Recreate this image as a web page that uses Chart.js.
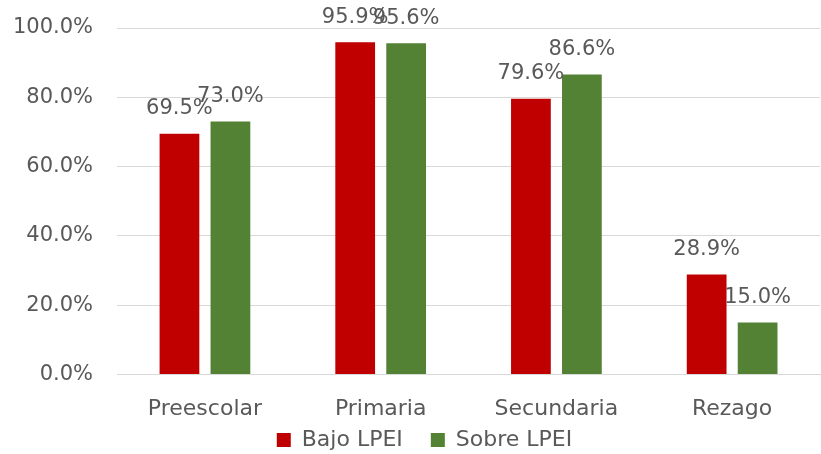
<!DOCTYPE html>
<html>
<head>
<meta charset="utf-8">
<script src="https://cdn.jsdelivr.net/npm/chart.js@4"></script>
<style>
  html, body { margin: 0; padding: 0; background: #fff; }
  #wrap { width: 821px; height: 454px; }
</style>
</head>
<body>
<div id="wrap"><canvas id="grafico"></canvas></div>
<script>
const categorias = ["Preescolar", "Primaria", "Secundaria", "Rezago"];
const bajoLPEI = [69.5, 95.9, 79.6, 28.9];
const sobreLPEI = [73.0, 95.6, 86.6, 15.0];

const fuente = "'DejaVu Sans', sans-serif";
const gris = "#595959";

// etiquetas de valor sobre cada barra
const etiquetas = {
    id: "etiquetas",
    afterDatasetsDraw(chart) {
        const ctx = chart.ctx;
        ctx.save();
        ctx.font = "21px " + fuente;
        ctx.fillStyle = gris;
        ctx.textAlign = "center";
        ctx.textBaseline = "middle";
        chart.data.datasets.forEach((ds, i) => {
            chart.getDatasetMeta(i).data.forEach((bar, j) => {
                ctx.fillText(ds.data[j].toFixed(1) + "%", bar.x, bar.y - 25);
            });
        });
        ctx.restore();
    }
};

// leyenda: mas separacion horizontal sin ocupar tanto alto
const moverLeyenda = {
    id: "moverLeyenda",
    afterLayout(chart) {
        chart.legend.top = 401;
        chart.legend.left += 20;
        chart.legend.right += 20;
    }
};

const config = {
    type: "bar",
    data: {
        labels: categorias,
        datasets: [
            {
                label: "Bajo LPEI",
                data: bajoLPEI,
                backgroundColor: "#C00000"
            },
            {
                label: "Sobre LPEI",
                data: sobreLPEI,
                backgroundColor: "#548235"
            }
        ]
    },
    options: {
        responsive: true,
        maintainAspectRatio: false,
        animation: false,
        categoryPercentage: 0.58,
        barPercentage: 0.78,
        layout: { padding: { top: 0, right: 1, left: -11, bottom: -42 } },
        plugins: {
            legend: {
                position: "bottom",
                labels: {
                    font: { family: fuente, size: 22 },
                    color: gris,
                    boxWidth: 14,
                    boxHeight: 14,
                    padding: 28
                }
            },
            tooltip: { enabled: false }
        },
        scales: {
            x: {
                grid: { display: false },
                border: { color: "#D9D9D9", width: 1 },
                ticks: {
                    font: { family: fuente, size: 22 },
                    color: gris,
                    padding: 13.5
                }
            },
            y: {
                min: 0,
                max: 100,
                afterFit: (scale) => { scale.paddingTop = 28; },
                ticks: {
                    stepSize: 20,
                    font: { family: fuente, size: 21 },
                    color: gris,
                    padding: 24,
                    callback: (v) => v.toFixed(1) + "%"
                },
                grid: { color: "#D9D9D9", lineWidth: 1, drawTicks: false },
                border: { display: false }
            }
        }
    },
    plugins: [etiquetas, moverLeyenda]
};

new Chart(document.getElementById("grafico"), config);
</script>
</body>
</html>
